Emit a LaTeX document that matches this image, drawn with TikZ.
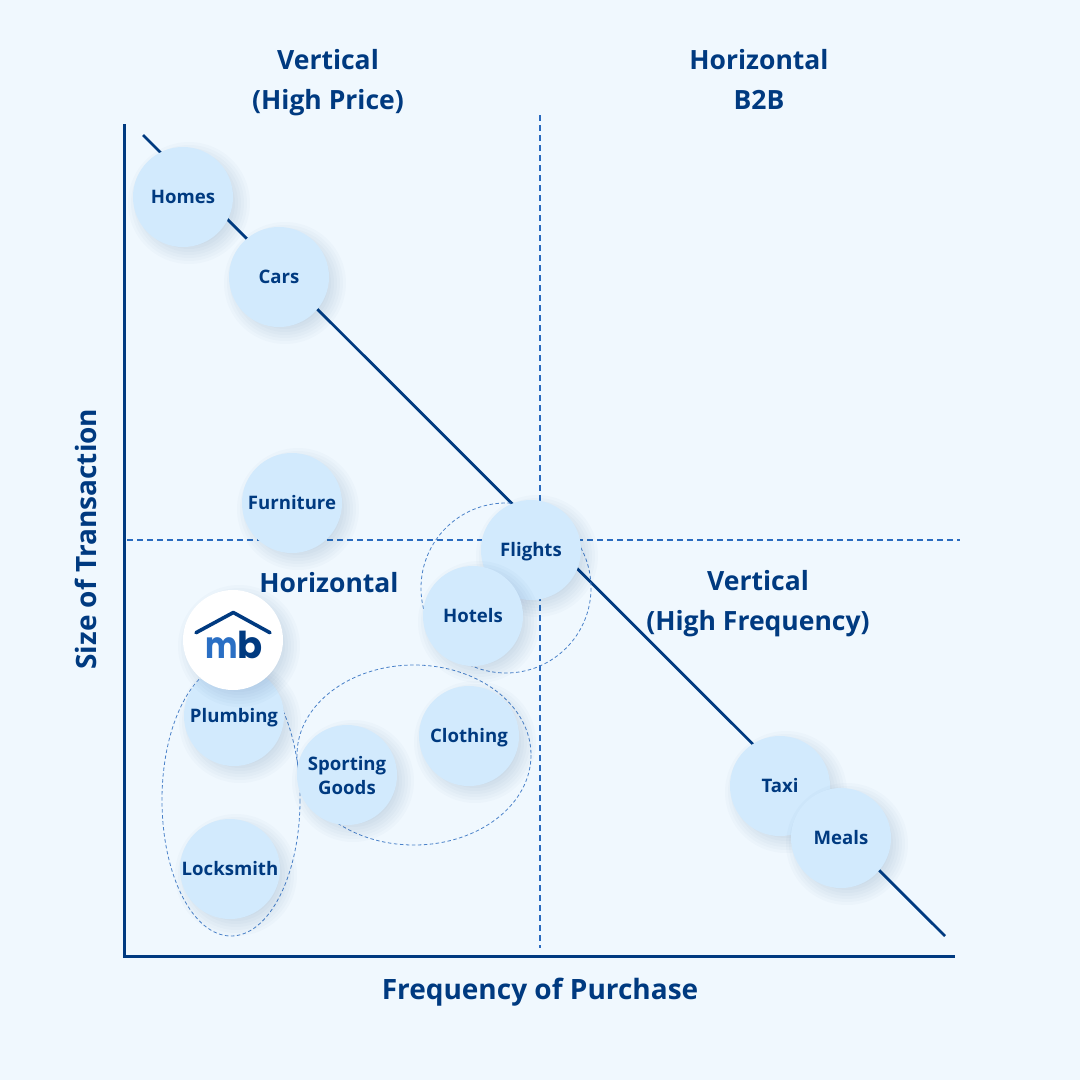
\documentclass[tikz,border=0pt]{standalone}
\usepackage{fontspec}
\setmainfont{Open Sans}
\newfontfamily\logofont{Poppins}
\definecolor{bgc}{HTML}{F0F8FE}
\definecolor{bubblec}{HTML}{D2EAFD}
\definecolor{darkc}{HTML}{003A80}
\definecolor{dashc}{HTML}{2A6BBF}
\definecolor{logoc}{HTML}{2A6FC4}
\tikzset{
  axisline/.style={draw=darkc,line width=3pt},
  trendline/.style={draw=darkc,line width=2.8pt},
  divider/.style={draw=dashc,line width=1.8pt,dash pattern=on 6pt off 4pt},
  groupline/.style={draw=dashc!85,line width=0.8pt,dash pattern=on 3.5pt off 2.5pt},
  bubble/.style={circle,fill=bubblec,minimum size=100pt,inner sep=0pt,text=darkc,align=center,text height=17pt,text depth=4pt,font=\fontsize{18.6}{24}\selectfont\bfseries},
  logobubble/.style={circle,fill=white,minimum size=100pt,inner sep=0pt},
  title/.style={text=darkc,align=center,font=\fontsize{26.5}{40}\selectfont\bfseries},
  axistitle/.style={title,font=\fontsize{28}{40}\selectfont\bfseries},
}
\newcommand{\softshadow}[2]{%
  \foreach \r in {40,43,...,61}{\fill[darkc,opacity=0.018] (#1+6,#2+6) circle (\r);}}
\begin{document}
\begin{tikzpicture}[x=1pt,y=-1pt]
\useasboundingbox (0,0) rectangle (1080,1080);
\fill[bgc] (0,0) rectangle (1080,1080);
% axes and dividers
\coordinate (axtop) at (124,124);
\coordinate (axorigin) at (124,956);
\coordinate (axright) at (955,956);
\coordinate (hl) at (127,540);
\coordinate (hr) at (960,540);
\coordinate (vt) at (540,115);
\coordinate (vb) at (540,948);
\coordinate (ts) at (143,135);
\coordinate (te) at (945,936);
\draw[divider] (hl) -- (hr);
\draw[divider] (vt) -- (vb);
\draw[axisline] (axtop) -- (axorigin) -- (axright);
\draw[trendline] (ts) -- (te);
% group outlines
\draw[groupline] (231,800) ellipse (69 and 136);
\draw[groupline] (414,755) ellipse (117 and 90);
\draw[groupline] (506,588) circle (85);
% bubbles
\softshadow{183}{197}
\node[bubble] (homes) at (183,197) {Homes};
\softshadow{279}{277}
\node[bubble] (cars) at (279,277) {Cars};
\softshadow{292}{503}
\node[bubble] (furniture) at (292,503) {Furniture};
\softshadow{531}{550}
\node[bubble] (flights) at (531,550) {Flights};
\softshadow{473}{616}
\node[bubble] (hotels) at (473,616) {Hotels};
\softshadow{234}{716}
\node[bubble] (plumbing) at (234,716) {Plumbing};
\softshadow{469}{736}
\node[bubble] (clothing) at (469,736) {Clothing};
\softshadow{347}{775}
\node[bubble,text height=43pt] (sporting) at (347,775) {Sporting\\Goods};
\softshadow{230}{869}
\node[bubble] (locksmith) at (230,869) {Locksmith};
\softshadow{780}{786}
\node[bubble] (taxi) at (780,786) {Taxi};
\softshadow{841}{838}
\node[bubble] (meals) at (841,838) {Meals};
% logo
\softshadow{233}{640}
\node[logobubble] (logo) at (233,640) {};
\draw[darkc,line width=3.6pt,line cap=round,line join=round] (196,632.7) -- (233.3,612.5) -- (270,632.7);
\node[inner sep=0pt,anchor=base east,xscale=0.83,text=logoc,font=\logofont\fontsize{37}{37}\selectfont\bfseries] (logom) at (238.5,658) {m};
\node[inner sep=0pt,anchor=base west,text=darkc,font=\logofont\fontsize{37}{37}\selectfont\bfseries] (logob) at (237,658) {b};
% titles
\node[title] (tl) at (328,83) {Vertical\\(High Price)};
\node[title] (tr) at (759,79.5) {Horizontal\\B2B};
\node[title] (bl) at (329,583) {Horizontal};
\node[title] (br) at (758,604) {Vertical\\(High Frequency)};
\node[axistitle] (xlab) at (540,992) {Frequency of Purchase};
\node[axistitle,rotate=90] (ylab) at (86,539) {Size of Transaction};
\end{tikzpicture}
\end{document}
